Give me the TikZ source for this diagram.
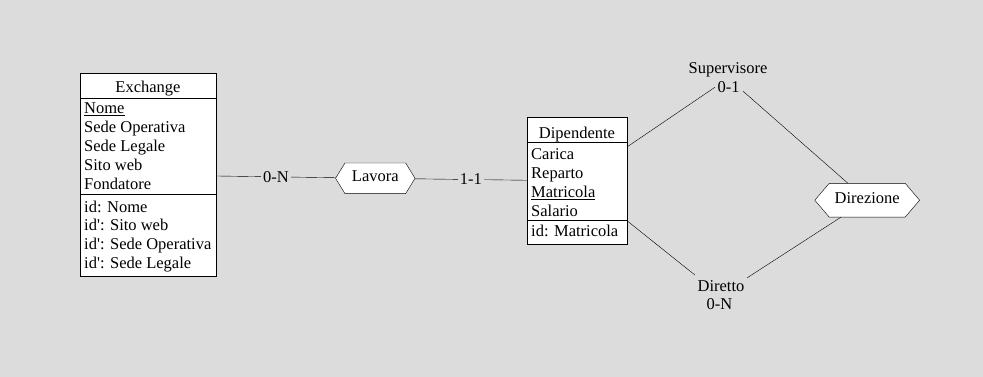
\documentclass[tikz,border=0pt]{standalone}
\usepackage{fontspec}
\setmainfont{Liberation Serif}
\usetikzlibrary{shapes.symbols,calc}
\pgfdeclarelayer{back}
\pgfdeclarelayer{links}
\pgfsetlayers{back,links,main}
\definecolor{canvas}{RGB}{220,220,220}
% underlined identifier attribute
\newcommand\keyattr[1]{\setbox0=\hbox{#1}\rlap{\rule[-2.2pt]{\wd0}{0.9pt}}\box0}
% straight prime used in secondary identifiers
\newcommand\altid{id\textquotesingle}

\begin{document}
\begin{tikzpicture}[x=1pt,y=-1pt,
  font=\fontsize{16.5}{19}\selectfont,
  line width=0.9pt,
  entity/.style={draw, fill=white, rectangle, inner sep=0pt, outer sep=0pt},
  field/.style={anchor=base west, inner sep=0pt},
  heading/.style={anchor=base, inner sep=0pt},
  relation/.style={draw, fill=white, signal, signal to=west and east,
    inner ysep=0pt, text depth=4pt, outer sep=0pt},
  card/.style={fill=canvas, inner xsep=2pt, inner ysep=1pt},
  rolelabel/.style={anchor=base, fill=canvas, inner sep=3pt,
    text height=14pt, text depth=4pt},
]
% canvas
\begin{pgfonlayer}{back}
  \fill[canvas] (0,0) rectangle (983,377);
\end{pgfonlayer}
\useasboundingbox (0,0) rectangle (983,377);

% ---- entity Exchange ----
\node[entity, minimum width=136pt, minimum height=203pt] (exch) at (148,175) {};
\draw (exch.west |- 0,98.5) -- (exch.east |- 0,98.5);
\draw (exch.west |- 0,194.5) -- (exch.east |- 0,194.5);
\node[heading] (exchT) at (148,93) {Exchange};
\node[field] (exA1) at (84,114.0) {\keyattr{Nome}};
\node[field] (exA2) at (84,132.8) {Sede Operativa};
\node[field] (exA3) at (84,151.6) {Sede Legale};
\node[field] (exA4) at (84,170.4) {Sito web};
\node[field] (exA5) at (84,189.2) {Fondatore};
\node[field] (exI1) at (84,212.0) {id: Nome};
\node[field] (exI2) at (84,230.8) {\altid: Sito web};
\node[field] (exI3) at (84,249.6) {\altid: Sede Operativa};
\node[field] (exI4) at (84,268.4) {\altid: Sede Legale};

% ---- entity Dipendente ----
\node[entity, minimum width=100pt, minimum height=126.8pt] (dip) at (577,180.9) {};
\draw (dip.west |- 0,142.7) -- (dip.east |- 0,142.7);
\draw (dip.west |- 0,220) -- (dip.east |- 0,220);
\node[heading] (dipT) at (577,138.5) {Dipendente};
\node[field] (dpA1) at (531,159.5) {Carica};
\node[field] (dpA2) at (531,178.4) {Reparto};
\node[field] (dpA3) at (531,197.3) {\keyattr{Matricola}};
\node[field] (dpA4) at (531,216.2) {Salario};
\node[field] (dpI1) at (531,236.5) {id: Matricola};

% ---- relationships ----
\node[relation, minimum height=30.6pt, inner xsep=7pt, signal pointer angle=117]
  (lavora) at (375.3,178.3) {Lavora};
\node[relation, minimum height=33.7pt, inner xsep=5.5pt, signal pointer angle=99]
  (direz) at (867.2,200.2) {Direzione};

% ---- role and cardinality labels of Direzione ----
\node[rolelabel] (supname) at (728,74) {Supervisore};
\node[rolelabel] (supcard) at (728.5,92.4) {0-1};
\node[rolelabel] (dirname) at (721,291.4) {Diretto};
\node[rolelabel] (dircard) at (719.5,309) {0-N};

% ---- connectors ----
\begin{pgfonlayer}{links}
  \draw (exch) -- node[card] {0-N} (lavora);
  \draw (lavora) -- node[card] {1-1} (dip);
  \draw (dip) -- ($(supname)!0.5!(supcard)$) -- (direz);
  \draw (dip) -- ($(dirname)!0.5!(dircard)$) -- (direz);
\end{pgfonlayer}
\end{tikzpicture}
\end{document}
